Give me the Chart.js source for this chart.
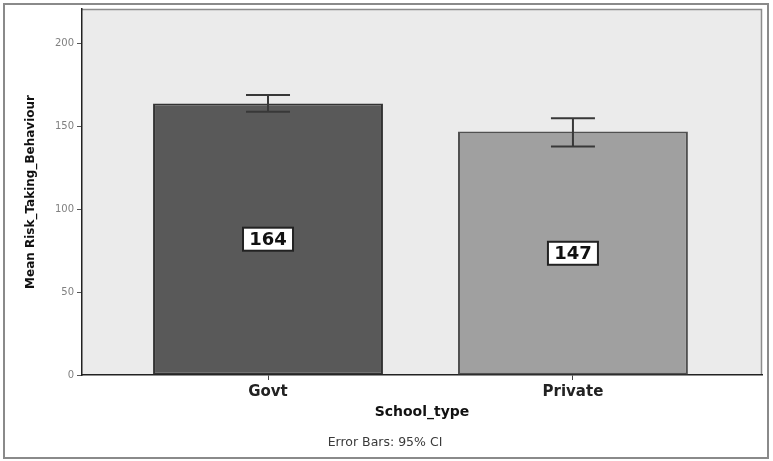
<!DOCTYPE html>
<html>
<head>
<meta charset="utf-8">
<script src="https://cdn.jsdelivr.net/npm/chart.js@4/dist/chart.umd.min.js"></script>
<style>
  html, body { margin: 0; padding: 0; background: #ffffff; }
  #wrap { width: 773px; height: 461px; }
</style>
</head>
<body>
<div id="wrap"><canvas id="c" width="773" height="461"></canvas></div>
<script>
// School type groups and their mean risk-taking scores with 95% CI bounds
const categories = ['Govt', 'Private'];
const means = [164, 147];
const ciLower = [159, 138];
const ciUpper = [169, 155];
const yTicks = [0, 50, 100, 150, 200];
const barColors = ['#595959', '#a0a0a0'];
const barBorders = ['#333333', '#505050'];

const FONT = '"DejaVu Sans", Verdana, sans-serif';

// Light grey plot panel with a thin frame, plus outer chart border
const panelPlugin = {
  id: 'panel',
  beforeDraw(chart) {
    const { ctx, chartArea: a } = chart;
    ctx.save();
    ctx.fillStyle = '#ebebeb';
    ctx.fillRect(a.left, a.top, a.right - a.left, a.bottom - a.top);
    ctx.strokeStyle = '#8c8c8c';
    ctx.lineWidth = 1.5;
    ctx.beginPath();
    ctx.moveTo(a.left, a.top + 0.5);
    ctx.lineTo(a.right - 0.5, a.top + 0.5);
    ctx.lineTo(a.right - 0.5, a.bottom);
    ctx.stroke();
    ctx.strokeStyle = '#8a8a8a';
    ctx.lineWidth = 2;
    ctx.strokeRect(4, 4, chart.width - 9, chart.height - 7);
    ctx.restore();
  },
  afterDraw(chart) {
    const { ctx } = chart;
    ctx.save();
    ctx.fillStyle = '#3a3a3a';
    ctx.font = '12.5px ' + FONT;
    ctx.textAlign = 'center';
    ctx.textBaseline = 'middle';
    ctx.fillText('Error Bars: 95% CI', 385, 443);
    ctx.restore();
  }
};

// Confidence-interval whiskers and boxed mean labels on each bar
const barExtrasPlugin = {
  id: 'barExtras',
  afterDatasetsDraw(chart) {
    const { ctx } = chart;
    const y = chart.scales.y;
    const meta = chart.getDatasetMeta(0);
    ctx.save();
    meta.data.forEach((bar, i) => {
      const x = bar.x;
      const yHi = y.getPixelForValue(ciUpper[i]);
      const yLo = y.getPixelForValue(ciLower[i]);
      const cap = 22;
      ctx.strokeStyle = '#383838';
      ctx.lineWidth = 2;
      ctx.beginPath();
      ctx.moveTo(x, yHi); ctx.lineTo(x, yLo);
      ctx.moveTo(x - cap, yHi); ctx.lineTo(x + cap, yHi);
      ctx.moveTo(x - cap, yLo); ctx.lineTo(x + cap, yLo);
      ctx.stroke();

      // boxed value label at the middle of the bar
      const yMid = y.getPixelForValue(means[i] / 2);
      const w = 50, h = 23;
      ctx.fillStyle = '#ffffff';
      ctx.fillRect(x - w / 2, yMid - h / 2, w, h);
      ctx.strokeStyle = '#222222';
      ctx.lineWidth = 2;
      ctx.strokeRect(x - w / 2, yMid - h / 2, w, h);
      ctx.fillStyle = '#111111';
      ctx.font = 'bold 18px ' + FONT;
      ctx.textAlign = 'center';
      ctx.textBaseline = 'middle';
      ctx.fillText(String(means[i]), x, yMid + 1);
    });
    ctx.restore();
  }
};

new Chart(document.getElementById('c'), {
  type: 'bar',
  data: {
    datasets: [{
      data: categories.map((c, i) => ({ x: i, y: means[i] })),
      backgroundColor: barColors,
      borderColor: barBorders,
      borderWidth: 2,
      borderSkipped: false,
      barPercentage: 0.754,
      categoryPercentage: 1
    }]
  },
  options: {
    responsive: false,
    animation: false,
    devicePixelRatio: 1,
    layout: { padding: { top: 9, right: 11, left: 0, bottom: 0 } },
    plugins: {
      legend: { display: false },
      tooltip: { enabled: false }
    },
    scales: {
      x: {
        type: 'linear',
        offset: false,
        min: -0.61,
        max: 1.62,
        afterFit(s) { s.height = 86; },
        afterBuildTicks(s) { s.ticks = categories.map((c, i) => ({ value: i })); },
        border: { display: true, color: '#222222', width: 1.5 },
        grid: { offset: false, drawOnChartArea: false, drawTicks: true, tickLength: 5, color: '#444444' },
        ticks: {
          callback: (v) => categories[v],
          color: '#222222',
          padding: 3,
          maxRotation: 0,
          font: { family: FONT, size: 15, weight: 'bold' }
        },
        title: {
          display: true,
          text: 'School_type',
          color: '#111111',
          font: { family: FONT, size: 14, weight: 'bold' },
          padding: { top: 0, bottom: 40 }
        }
      },
      y: {
        min: 0,
        max: 221,
        afterFit(s) { s.width = 82; },
        afterBuildTicks(s) { s.ticks = yTicks.map(v => ({ value: v })); },
        border: { display: true, color: '#222222', width: 1.5 },
        grid: { drawOnChartArea: false, drawTicks: true, tickLength: 5, color: '#555555' },
        ticks: {
          color: '#808080',
          padding: 3,
          font: { family: FONT, size: 10 }
        },
        title: {
          display: true,
          text: 'Mean Risk_Taking_Behaviour',
          color: '#111111',
          font: { family: FONT, size: 12, weight: 'bold' },
          padding: { top: 24, bottom: 0 }
        }
      }
    }
  },
  plugins: [panelPlugin, barExtrasPlugin]
});
</script>
</body>
</html>
